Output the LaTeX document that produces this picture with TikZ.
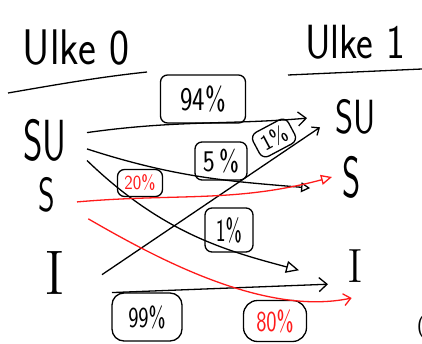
\documentclass[tikz,border=0pt]{standalone}
\usepackage{tikz}
\usetikzlibrary{arrows.meta,calc,positioning}
\definecolor{pen}{HTML}{FF1A1A}
\newcommand{\narrowed}[2]{\scalebox{#1}[1]{#2}}

\begin{document}
\begin{tikzpicture}[x=1pt,y=1pt,
    sz/.style={font=\sffamily\fontsize{#1}{#1}\selectfont},
    state/.style={inner sep=0pt,outer sep=0pt},
    pct/.style={draw,line width=1.3pt,rounded corners=7pt,inner sep=0pt},
    flow/.style={line width=1.3pt}]
  \useasboundingbox (0,0) rectangle (422,343);

  % headings
  \node[state,sz=50] (h0) at (76,295) {\narrowed{0.85}{Ulke 0}};
  \node[state,sz=48] (h1) at (355,301) {\narrowed{0.83}{Ulke 1}};
  \draw[flow] (8,250) .. controls (60,259) and (100,266) .. (147,271);
  \draw[flow] (288,268) -- (422,274);

  % states
  \node[state,sz=58,minimum width=84pt,minimum height=44pt] (suL) at (45,203) {\narrowed{0.64}{SU}};
  \node[state,sz=48,minimum width=60pt,minimum height=48pt] (sL) at (47,148) {\narrowed{0.66}{S}};
  \node[state,font=\rmfamily\fontsize{63}{63}\selectfont,minimum width=94pt,minimum height=44pt] (iL) at (55,70) {I};
  \node[state,sz=48,minimum width=72pt,minimum height=40pt] (suR) at (356,226) {\narrowed{0.72}{SU}};
  \node[state,sz=58,minimum width=40pt,minimum height=40pt] (sR) at (352,166) {\narrowed{0.6}{S}};
  \node[state,font=\rmfamily\fontsize{48}{48}\selectfont,minimum width=54pt,minimum height=64pt] (iR) at (355,77) {I};

  % rates
  \node[pct,sz=33,minimum width=85pt,minimum height=48pt] (p94) at (203,244) {\narrowed{0.8}{94\%}};
  \node[pct,sz=30,minimum width=52pt,minimum height=38pt] (p5) at (221,182) {\narrowed{0.85}{5\,\%}};
  \node[pct,sz=22,minimum width=40pt,minimum height=27pt,rotate=28] (p1a) at (274,205) {1\%};
  \node[pct,sz=32,minimum width=48pt,minimum height=44pt] (p1b) at (229,113) {\narrowed{0.65}{1\%}};
  \node[pct,sz=20,minimum width=45pt,minimum height=27pt,text=pen] (p20) at (140,160) {\narrowed{0.9}{20\%}};
  \node[pct,sz=29,minimum width=70pt,minimum height=48pt,rounded corners=12pt] (p99) at (147,26) {\narrowed{0.75}{99\%}};
  \node[pct,sz=29,minimum width=63pt,minimum height=41pt,rounded corners=14pt,text=pen] (p80) at (275,22) {\narrowed{0.75}{80\%}};
  \node[state,sz=22] (cut) at (421,16) {(};

  % transitions
  \draw[flow,shorten >=13pt,-{Straight Barb[length=8pt,width=14pt]}] (suL.10) to[out=8,in=185] (suR.west);
  \draw[flow,shorten >=22pt,-{Triangle[open,length=9pt,width=10pt]}] (suL.-12) to[out=-18,in=175] (sR.213);
  \draw[flow,shorten >=30pt,-{Triangle[open,length=13pt,width=12pt]}] (suL.-26) to[out=-44,in=165] (iR.204);
  \draw[flow,-{Straight Barb[length=6pt,width=10pt]}] (iL.-2) -- (suR.196);
  \draw[flow,shorten <=10pt,-{Straight Barb[length=8pt,width=14pt]}] (iL.-23) -- (iR.214);
  \draw[flow,pen,-{Triangle[open,length=11pt,width=10pt]}] (sL.-13) to[out=5,in=195] (sR.west);
  \draw[flow,pen,shorten <=13pt,-{Straight Barb[length=7pt,width=12pt]}] (sL.-30) to[out=-30,in=192,looseness=0.8] (iR.264);
\end{tikzpicture}
\end{document}
